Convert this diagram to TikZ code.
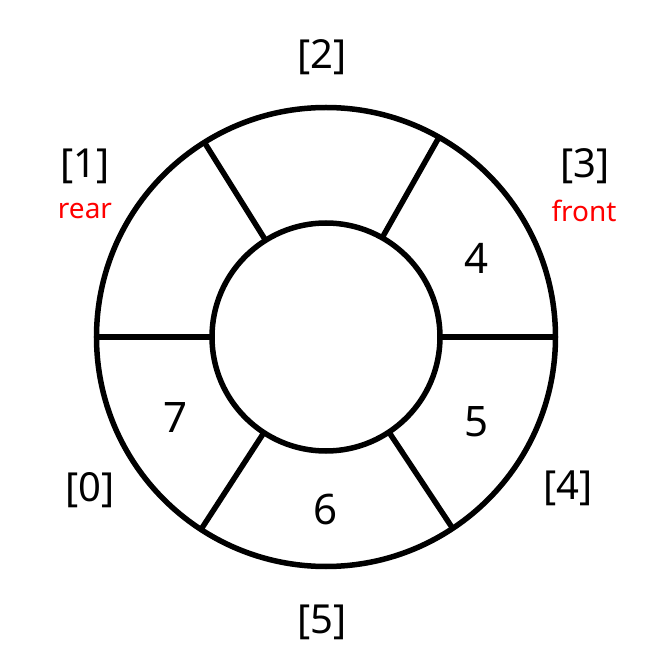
\documentclass[tikz,border=0pt]{standalone}
\usepackage{fontspec}
\setmainfont{Noto Sans}
\begin{document}
\begin{tikzpicture}[x=1pt,y=1pt,
  ring/.style={line width=5.5pt},
  idx/.style={inner sep=0pt,font=\fontsize{40}{44}\selectfont},
  val/.style={inner sep=0pt,font=\fontsize{42}{46}\selectfont},
  ptr/.style={inner sep=0pt,text=red,font=\fontsize{28}{32}\selectfont}]
\useasboundingbox (-326,-332) rectangle (326,337);
\coordinate (c) at (0,0);
\draw[ring] (c) circle (229.5);
\draw[ring] (c) circle (114);
\foreach \a in {0,60.5,122,180,237,303.5}{
  \draw[ring] (\a:114) -- (\a:229.5);
}
\node[idx] (i2) at (-4,280) {[2]};
\node[idx] (i1) at (-241,171) {[1]};
\node[ptr] (rear) at (-241,126) {rear};
\node[idx] (i3) at (259,171) {[3]};
\node[ptr] (front) at (258,126) {front};
\node[idx] (i0) at (-236,-153) {[0]};
\node[idx] (i4) at (242,-151) {[4]};
\node[idx] (i5) at (-4,-285) {[5]};
\node[val] (v4) at (151,79) {4};
\node[val] (v5) at (151,-85) {5};
\node[val] (v6) at (0,-173) {6};
\node[val] (v7) at (-150,-81) {7};
\end{tikzpicture}
\end{document}
